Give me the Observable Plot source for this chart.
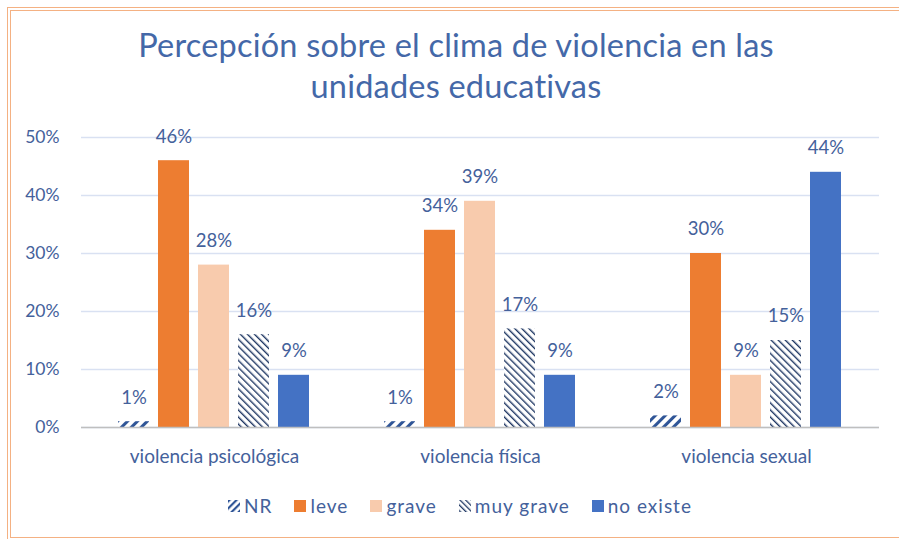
<!DOCTYPE html>
<html>
<head>
<meta charset="utf-8">
<script src="https://cdn.jsdelivr.net/npm/d3@7"></script>
<script src="https://cdn.jsdelivr.net/npm/@observablehq/plot@0.6"></script>
<style>
  html, body { margin: 0; padding: 0; background: #fff; }
  #frame { position: relative; width: 899px; height: 539px; overflow: hidden; font-family: Lato, "Open Sans", sans-serif; }
  .b1 { position: absolute; left: 7px; top: 7px; width: 1000px; height: 533px; border: 1px solid #F4B183; box-sizing: border-box; }
  .b2 { position: absolute; left: 10px; top: 10px; width: 1000px; height: 528px; border: 1px solid #F4B183; box-sizing: border-box; }
  #title { position: absolute; left: 0; top: 24px; width: 912px; text-align: center; color: #4468A8; font-size: 32.5px; line-height: 41px; letter-spacing: 0.2px; }
  #chart { position: absolute; left: 0; top: 110px; }
  #legend { position: absolute; left: 0; top: 494px; width: 920px; display: flex; justify-content: center; gap: 22px; color: #44619B; font-size: 19px; letter-spacing: 1px; align-items: center; }
  #legend .item { display: flex; align-items: center; gap: 4px; }
  #legend svg { display: block; }
</style>
</head>
<body>
<div id="frame">
  <div class="b1"></div>
  <div class="b2"></div>
  <div id="title">Percepción sobre el clima de violencia en las<br>unidades educativas</div>
  <div id="chart"></div>
  <div id="legend"></div>
</div>
<script>
const groups = ["violencia psicológica", "violencia física", "violencia sexual"];
const categories = ["NR", "leve", "grave", "muy grave", "no existe"];
const valuesPsicologica = [1, 46, 28, 16, 9];
const valuesFisica = [1, 34, 39, 17, 9];
const valuesSexual = [2, 30, 9, 15, 44];
const yTicks = [0, 10, 20, 30, 40, 50];

const seriesByGroup = [valuesPsicologica, valuesFisica, valuesSexual];
const data = [];
groups.forEach((g, gi) => categories.forEach((c, ci) => data.push({group: g, cat: c, value: seriesByGroup[gi][ci]})));

const fills = ["url(#hatchNR)", "#ED7D31", "#F8CBAD", "url(#hatchMG)", "#4472C4"];
const textColor = "#44619B";

const plot = Plot.plot({
  width: 899,
  height: 367,
  marginLeft: 80,
  marginRight: 19,
  marginTop: 27,
  marginBottom: 50,
  style: {fontFamily: "Lato, 'Open Sans', sans-serif", background: "transparent"},
  fx: {domain: groups, padding: 0, label: null},
  x: {domain: categories, paddingInner: 0.22, paddingOuter: 0.86, axis: null},
  y: {domain: [0, 50], axis: null},
  color: {domain: categories, range: fills},
  marks: [
    Plot.gridY(yTicks, {stroke: "#D9E1F2", strokeOpacity: 1, strokeWidth: 1.3}),
    Plot.axisY(yTicks, {anchor: "left", tickSize: 0, tickPadding: 22, tickFormat: d => d + "%", fontSize: 17.5, fill: textColor, label: null, facetAnchor: "left"}),
    Plot.axisFx({anchor: "bottom", tickSize: 0, tickPadding: 22, fontSize: 19, fill: textColor, label: null, style: {letterSpacing: "1px"}}),
    Plot.barY(data, {fx: "group", x: "cat", y: "value", fill: "cat"}),
    Plot.ruleY([0], {stroke: "#BFBFBF", strokeWidth: 1.3}),
    Plot.text(data, {fx: "group", x: "cat", y: "value", text: d => d.value + "%", dy: -24, fontSize: 18.5, fill: textColor, style: {letterSpacing: "0.3px"}})
  ]
});

// pattern definitions
const ns = "http://www.w3.org/2000/svg";
const defs = document.createElementNS(ns, "defs");
defs.innerHTML = `
  <pattern id="hatchNR" patternUnits="userSpaceOnUse" width="7" height="7" patternTransform="rotate(45)">
    <rect width="7" height="7" fill="#fff"/>
    <rect x="0" y="0" width="3" height="7" fill="#2F5597"/>
  </pattern>
  <pattern id="hatchMG" patternUnits="userSpaceOnUse" width="5" height="5" patternTransform="rotate(-45)">
    <rect width="5" height="5" fill="#fff"/>
    <rect x="0" y="0" width="1.4" height="5" fill="#203864"/>
  </pattern>`;
plot.insertBefore(defs, plot.firstChild);
document.getElementById("chart").appendChild(plot);

// legend
const legend = document.getElementById("legend");
categories.forEach((c, i) => {
  const item = document.createElement("div");
  item.className = "item";
  const sw = document.createElementNS(ns, "svg");
  sw.setAttribute("width", 12); sw.setAttribute("height", 12);
  sw.innerHTML = `<defs>
    <pattern id="lgNR" patternUnits="userSpaceOnUse" width="5" height="5" patternTransform="rotate(45)"><rect width="5" height="5" fill="#fff"/><rect width="2.2" height="5" fill="#2F5597"/></pattern>
    <pattern id="lgMG" patternUnits="userSpaceOnUse" width="4" height="4" patternTransform="rotate(-45)"><rect width="4" height="4" fill="#fff"/><rect width="1.3" height="4" fill="#203864"/></pattern>
  </defs><rect width="12" height="12" fill="${i === 0 ? "url(#lgNR)" : i === 3 ? "url(#lgMG)" : fills[i]}"/>`;
  const label = document.createElement("span");
  label.textContent = c;
  item.appendChild(sw);
  item.appendChild(label);
  legend.appendChild(item);
});
</script>
</body>
</html>
